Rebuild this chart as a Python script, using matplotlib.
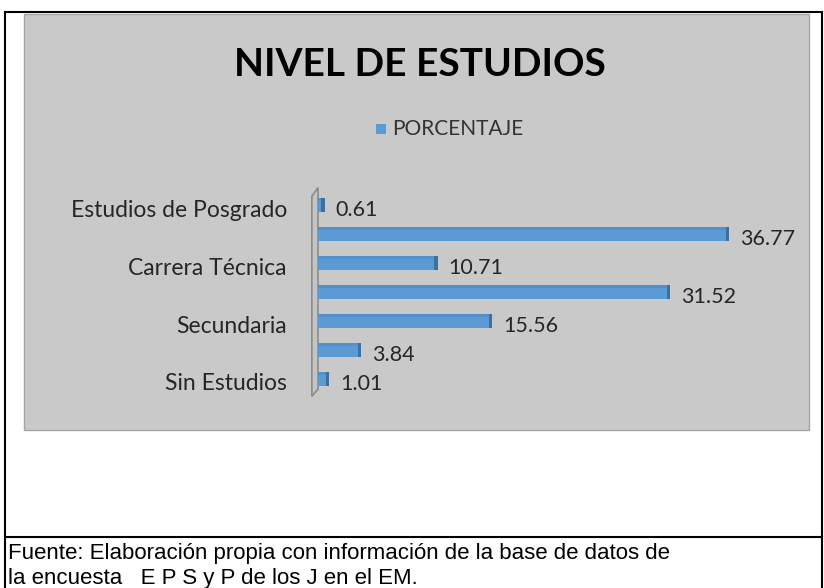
import matplotlib
matplotlib.use("Agg")
import matplotlib.pyplot as plt
from matplotlib.patches import Rectangle, Polygon
from matplotlib.lines import Line2D

# ---- data (bottom to top) ----
tick_labels = ["Sin Estudios", "", "Secundaria", "", "Carrera Técnica", "", "Estudios de Posgrado"]
values = [1.01, 3.84, 15.56, 31.52, 10.71, 36.77, 0.61]
value_labels = ["1.01", "3.84", "15.56", "31.52", "10.71", "36.77", "0.61"]
series_name = "PORCENTAJE"
title = "NIVEL DE ESTUDIOS"
caption_lines = ["Fuente: Elaboración propia con información de la base de datos de",
                 "la encuesta   E P S y P de los J en el EM."]

W, H = 824, 588
fig = plt.figure(figsize=(W / 100, H / 100), dpi=100)
fig.patch.set_facecolor("white")

def fx(px):
    return px / W

def fy(py):
    return 1 - py / H

# outer table borders
for (x0, y0, x1, y1) in [(5, 12, 822, 12), (5, 12, 5, 588), (822, 12, 822, 588), (5, 537, 822, 537)]:
    fig.add_artist(Line2D([fx(x0), fx(x1)], [fy(y0), fy(y1)], color="black", lw=1.5))

# chart area
fig.add_artist(Rectangle((fx(24), fy(430)), fx(809) - fx(24), fy(14) - fy(430),
                         facecolor="#c9c9c9", edgecolor="#a6a6a6", lw=1.0, zorder=-5))

fig.text(fx(420), fy(64), title, ha="center", va="center", fontsize=28,
         fontweight="bold", family="Lato", color="black")

# legend
fig.add_artist(Rectangle((fx(376), fy(134)), fx(10), fy(0) - fy(10), facecolor="#5b9bd5", edgecolor="none"))
fig.text(fx(392), fy(129), series_name, ha="left", va="center", fontsize=15, family="Lato", color="#333333")

# caption
for k, line in enumerate(caption_lines):
    fig.text(fx(8), fy(559 + 26 * k) if k == 0 else fy(584), line, ha="left", va="baseline",
             fontsize=16, family="Liberation Sans", color="black")

# axes: value 0 at x=318, 11.18 px per unit
x0px = 318
ppu = 11.18
xmax = 40
ax_w = xmax * ppu
ax = fig.add_axes([fx(x0px), fy(393.5), ax_w / W, 203 / H])
ax.set_zorder(5)
ax.set_xlim(0, xmax)
ax.set_ylim(-0.5, len(values) - 0.5)
ax.patch.set_alpha(0)
for s in ax.spines.values():
    s.set_visible(False)
ax.set_xticks([])
ax.set_yticks([])

# category labels (right-aligned, left of the wall)
for i, t in enumerate(tick_labels):
    if t:
        ax.annotate(t, (0, i), xycoords=("axes fraction", "data"), xytext=(-31, -5),
                    textcoords="offset pixels", ha="right", va="center",
                    fontsize=16.5, family="Lato", color="#262626", annotation_clip=False)

# 3D wall
ax.add_patch(Polygon([(-0.55, -0.6), (-0.55, 6.3), (0.0, 6.6), (0.0, -0.35)], closed=True,
                     facecolor="#c4c4c4", edgecolor="#8c8c8c", lw=1.2, clip_on=False))

bh = 0.46
ys = list(range(len(values)))
ax.barh(ys, values, height=bh, color="#5b9bd5", edgecolor="none", zorder=3)
# top face and end cap for the 3-D look
ax.barh([y + bh / 2 - 0.04 for y in ys], values, height=0.08, color="#538fc9",
        edgecolor="none", zorder=4)
ax.barh(ys, [0.3] * len(values), left=[v - 0.3 for v in values], height=bh,
        color="#3f6f9c", edgecolor="none", zorder=5)

for i, (v, t) in enumerate(zip(values, value_labels)):
    ax.annotate(t, (v, i), xytext=(11, -5), textcoords="offset pixels", ha="left", va="center",
                fontsize=15.5, family="Lato", color="#262626", annotation_clip=False)

fig.savefig("out.png", dpi=100)
